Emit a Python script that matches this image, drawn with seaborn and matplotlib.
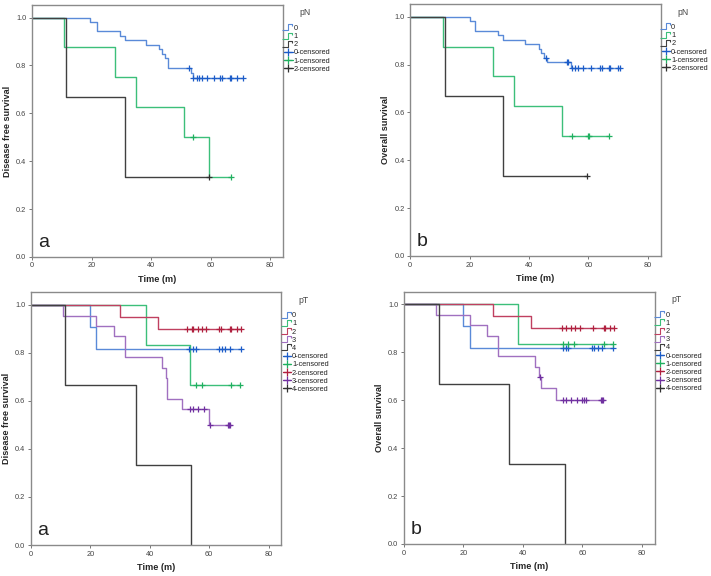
import numpy as np
import pandas as pd
import matplotlib
matplotlib.use("Agg")
import matplotlib.pyplot as plt
from matplotlib.lines import Line2D
from matplotlib.path import Path
import seaborn as sns

# ---- pN, disease free survival ----
pn_dfs_t0 = [19.5, 21.7, 29.6, 31.3, 38.2, 42.8, 43.7, 44.7, 45.8, 53.3, 54.0]
pn_dfs_s0 = [0.981, 0.943, 0.925, 0.906, 0.887, 0.868, 0.849, 0.830, 0.789, 0.768, 0.747]
pn_dfs_c0 = [52.6, 54.2, 55.3, 56.2, 57.0, 58.7, 61.0, 63.2, 63.8, 66.6, 66.9, 68.8, 70.8]
pn_dfs_t1 = [10.8, 27.9, 34.8, 50.9, 59.6]
pn_dfs_s1 = [0.875, 0.750, 0.625, 0.500, 0.333]
pn_dfs_c1 = [54.2, 66.9]
pn_dfs_t2 = [11.4, 31.3]
pn_dfs_s2 = [0.667, 0.333]
pn_dfs_c2 = [59.3]

# ---- pN, overall survival ----
pn_os_t0 = [20.0, 21.9, 29.7, 31.4, 38.5, 43.2, 44.1, 45.2, 45.9, 54.2]
pn_os_s0 = [0.980, 0.942, 0.925, 0.904, 0.885, 0.866, 0.848, 0.829, 0.809, 0.786]
pn_os_c0 = [45.7, 52.8, 53.3, 54.6, 55.5, 56.4, 58.3, 60.9, 64.0, 64.5, 66.8, 67.4, 70.1, 70.7]
pn_os_t1 = [11.2, 28.0, 35.0, 51.0]
pn_os_s1 = [0.875, 0.750, 0.625, 0.500]
pn_os_c1 = [54.4, 59.8, 60.1, 67.1]
pn_os_t2 = [11.8, 31.4]
pn_os_s2 = [0.667, 0.333]
pn_os_c2 = [59.5]

# ---- pT, disease free survival ----
pt_dfs_t0 = [19.8, 21.9]
pt_dfs_s0 = [0.909, 0.818]
pt_dfs_c0 = [53.2, 54.7, 55.5, 63.3, 64.2, 65.3, 67.0, 70.7]
pt_dfs_t1 = [38.6, 53.6]
pt_dfs_s1 = [0.833, 0.667]
pt_dfs_c1 = [55.5, 57.7, 67.3, 70.4]
pt_dfs_t2 = [29.9, 42.9]
pt_dfs_s2 = [0.950, 0.900]
pt_dfs_c2 = [52.5, 54.3, 54.7, 56.2, 57.6, 58.8, 63.3, 63.9, 67.1, 67.5, 69.3, 70.7]
pt_dfs_t3 = [10.8, 21.9, 28.1, 31.5, 44.2, 45.6, 45.9, 51.0, 60.0]
pt_dfs_s3 = [0.955, 0.913, 0.870, 0.783, 0.739, 0.696, 0.609, 0.565, 0.500]
pt_dfs_c3 = [53.6, 54.7, 56.3, 58.3, 60.2, 66.2, 66.7, 67.1]
pt_dfs_t4 = [11.6, 35.2, 54.0]
pt_dfs_s4 = [0.667, 0.333, 0.0]
pt_dfs_c4 = []

# ---- pT, overall survival ----
pt_os_t0 = [19.8, 22.1]
pt_os_s0 = [0.909, 0.818]
pt_os_c0 = [53.4, 54.3, 55.1, 63.2, 63.9, 65.2, 66.6, 70.3]
pt_os_t1 = [38.3]
pt_os_s1 = [0.833]
pt_os_c1 = [53.4, 55.1, 57.1, 67.2, 70.3]
pt_os_t2 = [29.9, 42.8]
pt_os_s2 = [0.950, 0.900]
pt_os_c2 = [53.1, 54.3, 56.2, 57.4, 59.0, 63.5, 67.2, 67.7, 69.1, 70.6]
pt_os_t3 = [10.9, 22.1, 28.0, 31.6, 43.9, 45.4, 45.9, 51.0]
pt_os_s3 = [0.955, 0.913, 0.870, 0.783, 0.739, 0.696, 0.652, 0.600]
pt_os_c3 = [45.6, 53.4, 54.6, 56.0, 58.3, 59.8, 60.5, 61.1, 66.1, 66.6, 67.0]
pt_os_t4 = [11.7, 35.2, 54.0]
pt_os_s4 = [0.667, 0.333, 0.0]
pt_os_c4 = []

pn_groups = ["0", "1", "2"]
pt_groups = ["0", "1", "2", "3", "4"]

line_cols = {"blue": "#5a8ad8", "green": "#3cbf7a", "black": "#404040",
             "red": "#c04060", "purple": "#a070c0"}
cens_cols = {"blue": "#1c5cc8", "green": "#20b060", "black": "#303030",
             "red": "#b0203f", "purple": "#7030a0"}
pn_colors = ["blue", "green", "black"]
pt_colors = ["blue", "green", "red", "purple", "black"]

sns.set_theme(style="white")
plt.rcParams["font.family"] = ["Liberation Sans", "DejaVu Sans"]

fig = plt.figure(figsize=(7.11, 5.76), dpi=100)

step_icon = Path([(-1.0, -0.5), (0.0, -0.5), (0.0, 0.5), (0.8, 0.5), (0.8, 0.1)])


def km_frame(times, surv, cens):
    end = max(list(times) + list(cens))
    x = [0.0] + list(times) + [end]
    y = [1.0] + list(surv) + [surv[-1]]
    return pd.DataFrame({"time": x, "surv": y})


def surv_at(times, surv, t):
    i = np.searchsorted(times, t, side="right")
    return 1.0 if i == 0 else surv[i - 1]


def draw_panel(rect, curves, groups, colors, ylabel, letter, title):
    ax = fig.add_axes(rect)
    for (t, s, c), col in zip(curves, colors):
        df = km_frame(t, s, c)
        sns.lineplot(data=df, x="time", y="surv", ax=ax, color=line_cols[col],
                     drawstyle="steps-post", estimator=None, linewidth=1.0)
        if c:
            cdf = pd.DataFrame({"time": c, "surv": [surv_at(t, s, v) for v in c]})
            sns.scatterplot(data=cdf, x="time", y="surv", ax=ax, marker="+",
                            color=cens_cols[col], s=22, linewidth=0.9, zorder=4)
    ax.set_xlim(0, 84.3)
    ax.set_ylim(0, 1.053)
    ax.set_xticks([0, 20, 40, 60, 80])
    ax.set_yticks([0.0, 0.2, 0.4, 0.6, 0.8, 1.0])
    ax.set_yticklabels(["0.0", "0.2", "0.4", "0.6", "0.8", "1.0"])
    ax.tick_params(axis="both", labelsize=5.3, labelcolor="#444444", length=2.5,
                   width=0.7, color="#777777", bottom=True, left=True, pad=1.5)
    for sp in ax.spines.values():
        sp.set_color("#8a8a8a")
        sp.set_linewidth(1.0)
    ax.set_xlabel("Time (m)", fontsize=6.6, fontweight="bold", labelpad=4)
    ax.set_ylabel(ylabel, fontsize=6.6, fontweight="bold", labelpad=3)
    ax.text(2.2, 0.025, letter, fontsize=14, ha="left", va="bottom", color="#222222")

    handles = []
    labels = []
    for g, col in zip(groups, colors):
        handles.append(Line2D([], [], marker=step_icon, linestyle="None", markersize=8,
                              markerfacecolor="none", markeredgecolor=line_cols[col],
                              markeredgewidth=0.8))
        labels.append(g)
    for g, col in zip(groups, colors):
        handles.append(Line2D([], [], color=cens_cols[col], marker="+", markersize=5.5,
                              linewidth=0.9, markeredgewidth=0.9))
        labels.append(g + "-censored")
    ax.text(1.088, 0.968, title, transform=ax.transAxes, ha="center", va="center",
            fontsize=6.2, color="#444444")
    leg = ax.legend(handles, labels, loc="upper left", bbox_to_anchor=(1.0, 0.927),
                    frameon=False, fontsize=5.3, handlelength=1.1,
                    handletextpad=0.15, labelspacing=0.14,
                    borderaxespad=0.1, borderpad=0.1)
    for txt in leg.get_texts():
        txt.set_color("#222222")
    return ax


pn_dfs = [(pn_dfs_t0, pn_dfs_s0, pn_dfs_c0), (pn_dfs_t1, pn_dfs_s1, pn_dfs_c1),
          (pn_dfs_t2, pn_dfs_s2, pn_dfs_c2)]
pn_os = [(pn_os_t0, pn_os_s0, pn_os_c0), (pn_os_t1, pn_os_s1, pn_os_c1),
         (pn_os_t2, pn_os_s2, pn_os_c2)]
pt_dfs = [(pt_dfs_t0, pt_dfs_s0, pt_dfs_c0), (pt_dfs_t1, pt_dfs_s1, pt_dfs_c1),
          (pt_dfs_t2, pt_dfs_s2, pt_dfs_c2), (pt_dfs_t3, pt_dfs_s3, pt_dfs_c3),
          (pt_dfs_t4, pt_dfs_s4, pt_dfs_c4)]
pt_os = [(pt_os_t0, pt_os_s0, pt_os_c0), (pt_os_t1, pt_os_s1, pt_os_c1),
         (pt_os_t2, pt_os_s2, pt_os_c2), (pt_os_t3, pt_os_s3, pt_os_c3),
         (pt_os_t4, pt_os_s4, pt_os_c4)]

draw_panel([0.045, 0.554, 0.353, 0.4375], pn_dfs, pn_groups, pn_colors,
           "Disease free survival", "a", "pN")
draw_panel([0.577, 0.5556, 0.352, 0.4375], pn_os, pn_groups, pn_colors,
           "Overall survival", "b", "pN")
draw_panel([0.0436, 0.0538, 0.352, 0.439], pt_dfs, pt_groups, pt_colors,
           "Disease free survival", "a", "pT")
draw_panel([0.568, 0.0556, 0.353, 0.438], pt_os, pt_groups, pt_colors,
           "Overall survival", "b", "pT")

fig.savefig("out.png", dpi=100, facecolor="white")
